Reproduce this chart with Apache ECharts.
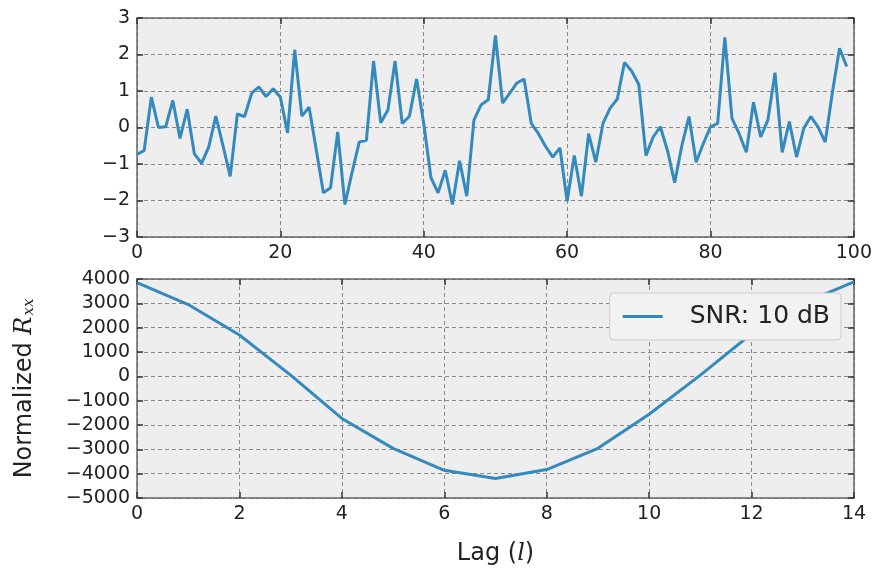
<!DOCTYPE html>
<html>
<head>
<meta charset="utf-8">
<script src="https://cdn.jsdelivr.net/npm/echarts@6/dist/echarts.min.js"></script>
<style>
  html, body { margin: 0; padding: 0; background: #fff; }
  #chart { width: 875px; height: 576px; }
</style>
</head>
<body>
<div id="chart"></div>
<script>
// noisy signal, samples 0..99
const signal = [
  -0.74, -0.63, 0.83, 0.0, 0.02, 0.74, -0.3, 0.5, -0.72, -0.98,
  -0.54, 0.31, -0.5, -1.34, 0.37, 0.3, 0.94, 1.11, 0.85, 1.06,
  0.83, -0.15, 2.13, 0.31, 0.56, -0.6, -1.79, -1.65, -0.12, -2.11,
  -1.23, -0.4, -0.35, 1.82, 0.13, 0.48, 1.82, 0.11, 0.31, 1.33,
  0.11, -1.37, -1.79, -1.17, -2.11, -0.91, -1.88, 0.2, 0.62, 0.76,
  2.52, 0.67, 0.94, 1.22, 1.33, 0.11, -0.17, -0.52, -0.81, -0.56,
  -2.02, -0.77, -1.88, -0.17, -0.95, 0.11, 0.53, 0.78, 1.78, 1.55,
  1.18, -0.77, -0.26, 0.02, -0.63, -1.51, -0.5, 0.3, -0.95, -0.44,
  0.02, 0.11, 2.47, 0.25, -0.17, -0.68, 0.69, -0.26, 0.2, 1.5,
  -0.68, 0.16, -0.81, -0.03, 0.3, 0.02, -0.4, 0.95, 2.17, 1.67
];
// normalized autocorrelation vs lag 0..14
const lags = [0, 1, 2, 3, 4, 5, 6, 7, 8, 9, 10, 11, 12, 13, 14];
const rxx = [3850, 2950, 1700, 50, -1730, -2960, -3860, -4200, -3830, -2960, -1560, 50, 1750, 3000, 3880];
const seriesName = 'SNR: 10 dB';

const blue = '#348ABD';
const frame = '#666';
const font = 'DejaVu Sans';
const minus = v => String(v).replace('-', '\u2212');

function mainAxis(gridIndex, min, max, interval, position, showLabels) {
  return {
    type: 'value', gridIndex, min, max, interval, position,
    axisLine: { show: true, onZero: false, lineStyle: { color: frame, width: 1.5 } },
    axisTick: { show: true, inside: true, length: 6, lineStyle: { color: '#333', width: 1.5 } },
    axisLabel: {
      show: showLabels, color: '#222', fontFamily: font, fontSize: 19, margin: 7,
      formatter: minus
    },
    splitLine: {
      show: showLabels,
      lineStyle: { color: '#8a8a8a', type: [4, 3], width: 1 }
    }
  };
}

const signalData = signal.map((v, i) => [i, v]);
const rxxData = lags.map((l, i) => [l, rxx[i]]);

const xTopBottom = mainAxis(0, 0, 100, 20, 'bottom', true);
const xTopTop = mainAxis(0, 0, 100, 20, 'top', false);
const xBotBottom = mainAxis(1, 0, 14, 2, 'bottom', true);
xBotBottom.name = '{n|Lag (}{i|l}{n|)}';
xBotBottom.nameLocation = 'middle';
xBotBottom.nameGap = 44;
xBotBottom.nameTextStyle = {
  rich: {
    n: { fontFamily: font, fontSize: 24, color: '#222' },
    i: { fontFamily: 'DejaVu Serif', fontStyle: 'italic', fontSize: 24, color: '#222' }
  }
};
const xBotTop = mainAxis(1, 0, 14, 2, 'top', false);

const yTopLeft = mainAxis(0, -3, 3, 1, 'left', true);
const yTopRight = mainAxis(0, -3, 3, 1, 'right', false);
const yBotLeft = mainAxis(1, -5000, 4000, 1000, 'left', true);
yBotLeft.name = '{n|Normalized }{i|R}{s|xx}';
yBotLeft.nameLocation = 'middle';
yBotLeft.nameRotate = 90;
yBotLeft.nameGap = 100;
yBotLeft.nameTextStyle = {
  rich: {
    n: { fontFamily: font, fontSize: 24, color: '#222' },
    i: { fontFamily: 'DejaVu Serif', fontStyle: 'italic', fontSize: 24, color: '#222' },
    s: { fontFamily: 'DejaVu Serif', fontStyle: 'italic', fontSize: 15, color: '#222', verticalAlign: 'bottom', padding: [9, 0, 0, 1] }
  }
};
const yBotRight = mainAxis(1, -5000, 4000, 1000, 'right', false);

const chart = echarts.init(document.getElementById('chart'), null, { renderer: 'canvas' });
chart.setOption({
  animation: false,
  backgroundColor: '#fff',
  grid: [
    { left: 137, right: 20, top: 18, height: 219, show: true, backgroundColor: '#eeeeee', borderWidth: 0 },
    { left: 137, right: 21, top: 279, height: 219, show: true, backgroundColor: '#eeeeee', borderWidth: 0 }
  ],
  legend: {
    data: [seriesName],
    right: 34, top: 293,
    orient: 'vertical',
    icon: 'rect', itemWidth: 40, itemHeight: 3,
    backgroundColor: '#f2f2f2', borderColor: '#cccccc', borderWidth: 1, borderRadius: 4,
    padding: [11, 11, 11, 13],
    textStyle: { fontFamily: font, fontSize: 25, color: '#222', padding: [0, 0, 0, 22] }
  },
  xAxis: [xTopBottom, xTopTop, xBotBottom, xBotTop],
  yAxis: [yTopLeft, yTopRight, yBotLeft, yBotRight],
  series: [
    {
      type: 'line', xAxisIndex: 0, yAxisIndex: 0, data: signalData,
      showSymbol: false, lineStyle: { color: blue, width: 3 }, itemStyle: { color: blue }
    },
    {
      name: seriesName,
      type: 'line', xAxisIndex: 2, yAxisIndex: 2, data: rxxData,
      showSymbol: false, lineStyle: { color: blue, width: 3 }, itemStyle: { color: blue }
    }
  ]
});
</script>
</body>
</html>
